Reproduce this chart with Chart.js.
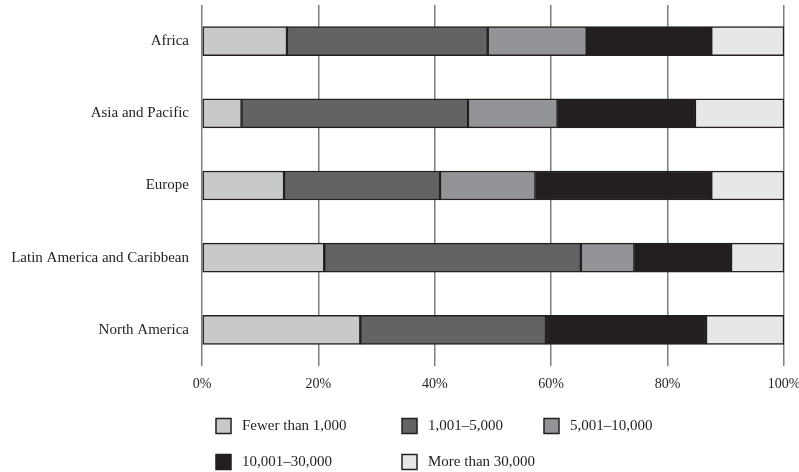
<!DOCTYPE html>
<html>
<head>
<meta charset="utf-8">
<script src="https://cdn.jsdelivr.net/npm/chart.js@4/dist/chart.umd.min.js"></script>
<style>
  html, body { margin: 0; padding: 0; background: #fff; }
  #wrap { width: 799px; height: 472px; position: relative; }
</style>
</head>
<body>
<div id="wrap"><canvas id="c"></canvas></div>
<script>
// Regions (rows) and share of cities by population size band, in percent
const regions = ['Africa', 'Asia and Pacific', 'Europe', 'Latin America and Caribbean', 'North America'];
const bandLabels = ['Fewer than 1,000', '1,001\u20135,000', '5,001\u201310,000', '10,001\u201330,000', 'More than 30,000'];
const fewerThan1000 = [14.6, 6.8, 14.1, 21.0, 27.2];
const from1001to5000 = [34.5, 38.9, 26.8, 44.1, 31.9];
const from5001to10000 = [17.0, 15.4, 16.4, 9.2, 0];
const from10001to30000 = [21.4, 23.6, 30.2, 16.6, 27.5];
const moreThan30000 = [12.5, 15.3, 12.5, 9.1, 13.4];
const xTicks = [0, 20, 40, 60, 80, 100];

const fills = ['#c8c9cb', '#636365', '#939497', '#231f20', '#e6e7e8'];
const edge = '#231f20';
const FONT = '"Liberation Serif", "DejaVu Serif", serif';
const FONT_SIZE = 15;

const seriesValues = [fewerThan1000, from1001to5000, from5001to10000, from10001to30000, moreThan30000];
const datasets = seriesValues.map((vals, i) => ({
  label: bandLabels[i],
  data: vals,
  backgroundColor: fills[i],
  borderColor: edge,
  borderWidth: 1.5,
  borderSkipped: false,
  barThickness: 29
}));

// Legend laid out on a fixed three-column grid under the axis
const gridLegend = {
  id: 'gridLegend',
  afterDraw(chart) {
    const ctx = chart.ctx;
    const cols = [216, 402, 544];
    const rows = [426, 462];
    ctx.save();
    ctx.font = FONT_SIZE + 'px ' + FONT;
    ctx.textBaseline = 'middle';
    chart.data.datasets.forEach((ds, i) => {
      const x = cols[i % 3];
      const y = rows[Math.floor(i / 3)];
      ctx.fillStyle = ds.backgroundColor;
      ctx.fillRect(x, y - 7.5, 15, 15);
      ctx.lineWidth = 1.5;
      ctx.strokeStyle = edge;
      ctx.strokeRect(x, y - 7.5, 15, 15);
      ctx.fillStyle = '#231f20';
      ctx.fillText(ds.label, x + 26, y);
    });
    ctx.restore();
  }
};

new Chart(document.getElementById('c'), {
  type: 'bar',
  data: { labels: regions, datasets },
  options: {
    indexAxis: 'y',
    responsive: true,
    maintainAspectRatio: false,
    animation: false,
    layout: { padding: { top: 5, right: 15, bottom: 76, left: 0 } },
    plugins: {
      legend: { display: false },
      tooltip: { enabled: false }
    },
    scales: {
      x: {
        stacked: true,
        min: 0,
        max: 100,
        afterBuildTicks(scale) { scale.ticks = xTicks.map(v => ({ value: v })); },
        afterFit(scale) {
          scale.height = 30;
          scale.paddingLeft = 0;
          scale.paddingRight = 0;
        },
        grid: { color: '#7d7e80', lineWidth: 1.5, drawTicks: false },
        border: { display: false },
        ticks: {
          padding: 10,
          color: '#231f20',
          font: { family: FONT, size: 14 },
          callback: v => v + '%'
        }
      },
      y: {
        stacked: true,
        afterFit(scale) {
          scale.width = 202;
          scale.paddingTop = 0;
          scale.paddingBottom = 0;
        },
        grid: { display: false, drawTicks: false },
        border: { display: false },
        ticks: {
          padding: 13,
          color: '#231f20',
          font: { family: FONT, size: FONT_SIZE }
        }
      }
    }
  },
  plugins: [gridLegend]
});
</script>
</body>
</html>
